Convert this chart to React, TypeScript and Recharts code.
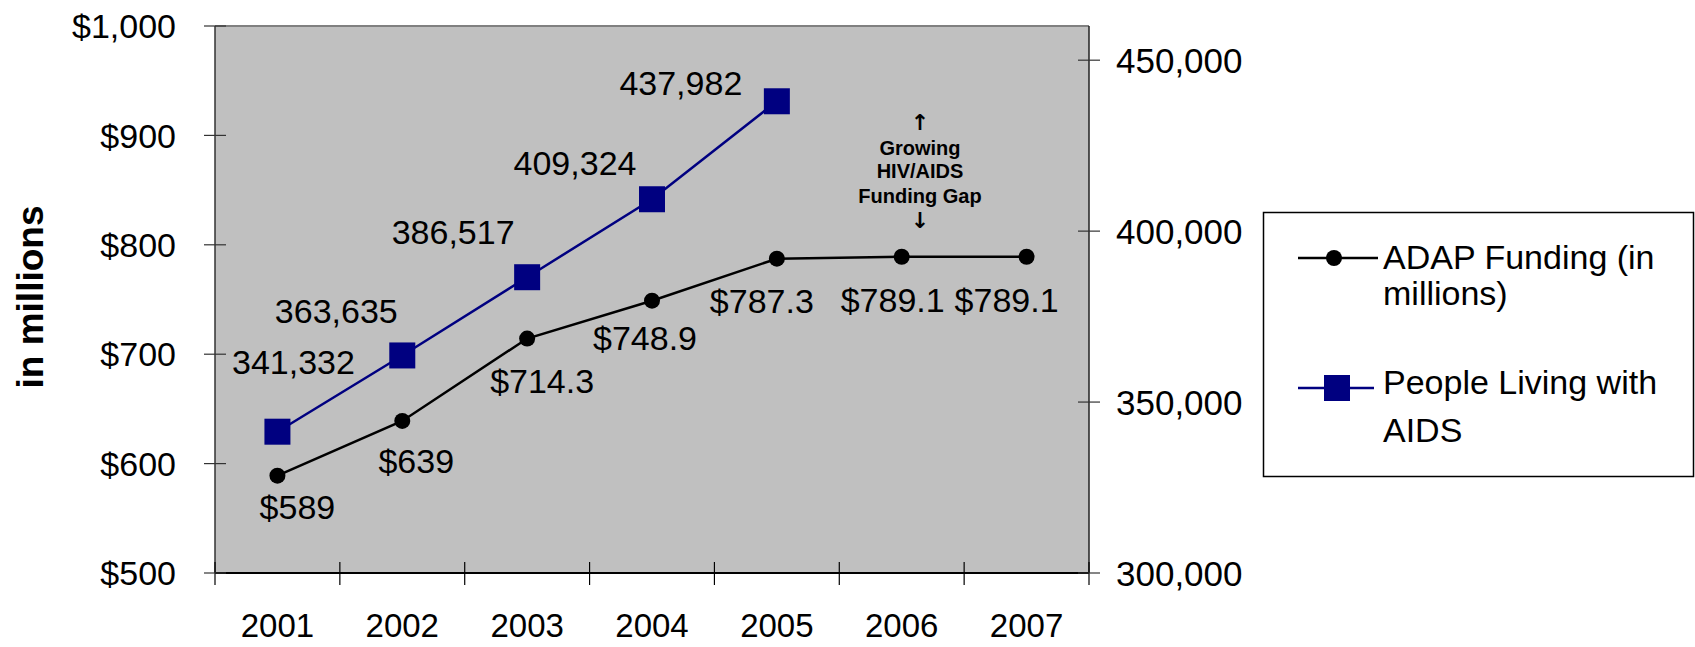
import React from 'react';
import {
  LineChart,
  Line,
  XAxis,
  YAxis,
  CartesianGrid,
  LabelList,
  Customized,
} from 'recharts';

const YEARS = ['2001', '2002', '2003', '2004', '2005', '2006', '2007'];
const ADAP_FUNDING = [589, 639, 714.3, 748.9, 787.3, 789.1, 789.1];
const PEOPLE_LIVING = [341332, 363635, 386517, 409324, 437982, null, null];
const LEFT_TICKS = [500, 600, 700, 800, 900, 1000];
const RIGHT_TICKS = [300000, 350000, 400000, 450000];

// label placement (dx, dy from the point) as Excel put them
const ADAP_LABEL_OFFSET = [[20, 31], [14, 40], [15, 42], [-7, 37], [-15, 42], [-9, 43], [-20, 43]];
const PEOPLE_LABEL_OFFSET = [[16, -70], [-66, -45], [-74, -45], [-77, -36], [-96, -19]];

const data = YEARS.map((year, i) => ({
  year,
  adap: ADAP_FUNDING[i],
  people: PEOPLE_LIVING[i],
}));

const FONT = '"Liberation Sans", Arial, sans-serif';
const PLOT_LEFT = 215;
const PLOT_RIGHT = 1089;
const PLOT_TOP = 26;
const PLOT_BOTTOM = 573;
const HALF_BAND = (PLOT_RIGHT - PLOT_LEFT) / YEARS.length / 2;

const LeftTick = (props: any) => {
  const { y, payload } = props;
  return (
    <g>
      <line x1={PLOT_LEFT - 11} x2={PLOT_LEFT + 11} y1={y} y2={y} stroke="#333" strokeWidth={1.2} />
      <text x={176} y={y} dy="0.36em" textAnchor="end" fontFamily={FONT} fontSize={34} fill="#000">
        {'$' + payload.value.toLocaleString('en-US')}
      </text>
    </g>
  );
};

const RightTick = (props: any) => {
  const { y, payload } = props;
  return (
    <g>
      <line x1={PLOT_RIGHT - 11} x2={PLOT_RIGHT + 11} y1={y} y2={y} stroke="#333" strokeWidth={1.2} />
      <text x={1116} y={y} dy="0.36em" textAnchor="start" fontFamily={FONT} fontSize={35} fill="#000">
        {payload.value.toLocaleString('en-US')}
      </text>
    </g>
  );
};

const XTick = (props: any) => {
  const { x, payload, index } = props;
  const left = x - HALF_BAND;
  return (
    <g>
      <line x1={left} x2={left} y1={PLOT_BOTTOM - 11} y2={PLOT_BOTTOM + 12} stroke="#000" strokeWidth={1.2} />
      {index === YEARS.length - 1 && (
        <line x1={x + HALF_BAND} x2={x + HALF_BAND} y1={PLOT_BOTTOM - 11} y2={PLOT_BOTTOM + 12} stroke="#000" strokeWidth={1.2} />
      )}
      <text x={x} y={637} textAnchor="middle" fontFamily={FONT} fontSize={33} fill="#000">
        {payload.value}
      </text>
    </g>
  );
};

const renderSquare = (props: any) => {
  const { cx, cy, index } = props;
  if (cx == null || cy == null) return <g key={`sq-${index}`} />;
  return <rect key={`sq-${index}`} x={cx - 13} y={cy - 13} width={26} height={26} fill="#000080" />;
};

const renderAdapLabel = (props: any) => {
  const { x, y, value, index } = props;
  if (value == null) return null;
  const [dx, dy] = ADAP_LABEL_OFFSET[index] || [0, 40];
  return (
    <text key={`al-${index}`} x={x + dx} y={y + dy} dy="0.36em" textAnchor="middle" fontFamily={FONT} fontSize={34} fill="#000">
      {'$' + value}
    </text>
  );
};

const renderPeopleLabel = (props: any) => {
  const { x, y, value, index } = props;
  if (value == null) return null;
  const [dx, dy] = PEOPLE_LABEL_OFFSET[index] || [0, -40];
  return (
    <text key={`pl-${index}`} x={x + dx} y={y + dy} dy="0.36em" textAnchor="middle" fontFamily={FONT} fontSize={34} fill="#000">
      {Number(value).toLocaleString('en-US')}
    </text>
  );
};

const Extras = () => (
  <g>
    {/* top border of the plot */}
    <line x1={PLOT_LEFT} x2={PLOT_RIGHT} y1={PLOT_TOP} y2={PLOT_TOP} stroke="#808080" strokeWidth={2} />

    {/* axis title */}
    <text
      x={43}
      y={297}
      transform="rotate(-90 43 297)"
      textAnchor="middle"
      fontFamily={FONT}
      fontSize={37}
      fontWeight="bold"
      fill="#000"
    >
      in millions
    </text>

    {/* annotation */}
    <g fontFamily={FONT} fontWeight="bold" fill="#000" textAnchor="middle">
      <text x={920} y={130} fontSize={22} fontFamily='"DejaVu Sans", sans-serif'>↑</text>
      <text x={920} y={155} fontSize={20}>Growing</text>
      <text x={920} y={178} fontSize={20}>HIV/AIDS</text>
      <text x={920} y={203} fontSize={20}>Funding Gap</text>
      <text x={920} y={228} fontSize={22} fontFamily='"DejaVu Sans", sans-serif'>↓</text>
    </g>

    {/* legend */}
    <rect x={1263.5} y={212.5} width={430} height={264} fill="#fff" stroke="#000" strokeWidth={1.5} />
    <line x1={1298} x2={1378} y1={258} y2={258} stroke="#000" strokeWidth={2.5} />
    <circle cx={1334} cy={258} r={8} fill="#000" />
    <line x1={1298} x2={1374} y1={388} y2={388} stroke="#000080" strokeWidth={2.5} />
    <rect x={1324} y={375} width={26} height={26} fill="#000080" />
    <g fontFamily={FONT} fontSize={34} fill="#000">
      <text x={1383} y={269}>ADAP Funding (in</text>
      <text x={1383} y={305}>millions)</text>
      <text x={1383} y={394}>People Living with</text>
      <text x={1383} y={442}>AIDS</text>
    </g>
  </g>
);

export default function App() {
  return (
    <div style={{ position: 'absolute', left: 0, top: 0, width: 1695, height: 647, background: '#fff' }}>
      <LineChart
        width={1695}
        height={647}
        data={data}
        margin={{ top: PLOT_TOP, right: 406, bottom: 0, left: 0 }}
      >
        <CartesianGrid horizontal={false} vertical={false} fill="#c0c0c0" />
        <XAxis
          dataKey="year"
          height={74}
          padding={{ left: HALF_BAND, right: HALF_BAND }}
          interval={0}
          tickLine={false}
          axisLine={{ stroke: '#000', strokeWidth: 2 }}
          tick={XTick}
        />
        <YAxis
          yAxisId="left"
          width={215}
          domain={[500, 1000]}
          ticks={LEFT_TICKS}
          allowDataOverflow
          tickLine={false}
          axisLine={{ stroke: '#333', strokeWidth: 1.5 }}
          tick={LeftTick}
        />
        <YAxis
          yAxisId="right"
          orientation="right"
          width={200}
          domain={[300000, 460000]}
          ticks={RIGHT_TICKS}
          allowDataOverflow
          tickLine={false}
          axisLine={{ stroke: '#222', strokeWidth: 1.5 }}
          tick={RightTick}
        />
        <Line
          yAxisId="left"
          type="linear"
          dataKey="adap"
          stroke="#000"
          strokeWidth={2.5}
          dot={{ r: 8, fill: '#000', stroke: '#000', strokeWidth: 0 }}
          activeDot={false}
          isAnimationActive={false}
        >
          <LabelList dataKey="adap" content={renderAdapLabel} />
        </Line>
        <Line
          yAxisId="right"
          type="linear"
          dataKey="people"
          stroke="#000080"
          strokeWidth={2.5}
          dot={renderSquare}
          activeDot={false}
          isAnimationActive={false}
        >
          <LabelList dataKey="people" content={renderPeopleLabel} />
        </Line>
        <Customized component={Extras} />
      </LineChart>
    </div>
  );
}
